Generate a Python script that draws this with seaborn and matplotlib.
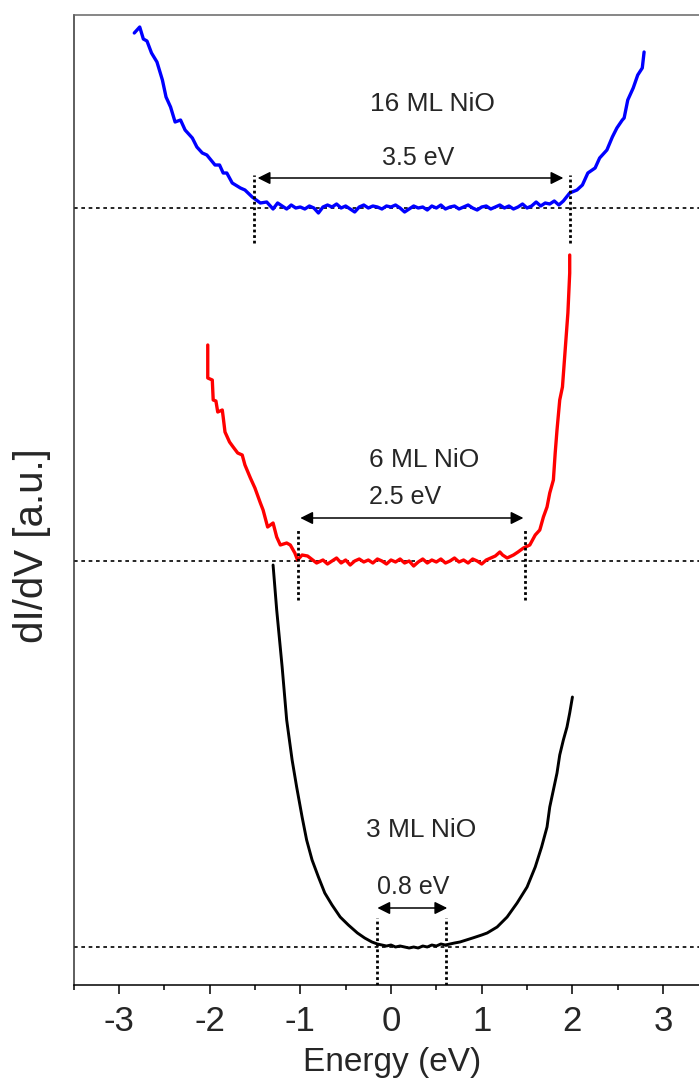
import matplotlib
matplotlib.use("Agg")
import matplotlib.pyplot as plt
import seaborn as sns
import numpy as np
from matplotlib.ticker import MultipleLocator

# ---------------- data (energy in eV, dI/dV in a.u. with offsets) -------------
# 16 ML NiO
e16 = [-2.83, -2.77, -2.73, -2.69, -2.64, -2.58, -2.52, -2.48, -2.43, -2.38, -2.32,
       -2.27, -2.19, -2.14, -2.08, -2.03, -1.94, -1.89, -1.85, -1.81, -1.75, -1.66,
       -1.61, -1.53, -1.44, -1.37, -1.30, -1.25,
       -1.20, -1.15, -1.10, -1.05, -1.00, -0.95, -0.90, -0.85, -0.80, -0.75, -0.70,
       -0.65, -0.60, -0.55, -0.50, -0.45, -0.40, -0.35, -0.30, -0.25, -0.20, -0.15,
       -0.10, -0.05, 0.00, 0.05, 0.10, 0.15, 0.20, 0.25, 0.30, 0.35, 0.40, 0.45,
       0.50, 0.55, 0.60, 0.65, 0.70, 0.75, 0.80, 0.85, 0.90, 0.95, 1.00, 1.05,
       1.10, 1.15, 1.20, 1.25, 1.30, 1.35, 1.40, 1.45, 1.50, 1.55, 1.60, 1.65,
       1.70, 1.75, 1.80, 1.85, 1.90,
       1.97, 2.05, 2.11, 2.17, 2.25, 2.30, 2.38, 2.44, 2.49, 2.55, 2.57, 2.61,
       2.67, 2.72, 2.77, 2.79]
d16 = [9.52, 9.58, 9.46, 9.44, 9.32, 9.23, 9.05, 8.88, 8.78, 8.63, 8.65,
       8.55, 8.47, 8.38, 8.32, 8.30, 8.20, 8.20, 8.12, 8.12, 8.02, 7.97,
       7.95, 7.88, 7.82, 7.83, 7.76, 7.82,
       7.79, 7.76, 7.80, 7.77, 7.78, 7.76, 7.79, 7.77, 7.72, 7.78, 7.80,
       7.78, 7.81, 7.77, 7.79, 7.76, 7.73, 7.78, 7.80, 7.77, 7.79, 7.78,
       7.76, 7.79, 7.78, 7.80, 7.77, 7.73, 7.76, 7.79, 7.77, 7.78, 7.75, 7.79,
       7.77, 7.80, 7.76, 7.78, 7.79, 7.76, 7.78, 7.80, 7.77, 7.75, 7.78, 7.79,
       7.76, 7.78, 7.80, 7.77, 7.79, 7.76, 7.78, 7.81, 7.77, 7.79, 7.83, 7.79,
       7.82, 7.81, 7.84, 7.80, 7.84,
       7.92, 7.95, 8.00, 8.12, 8.17, 8.27, 8.35, 8.48, 8.57, 8.65, 8.67, 8.85,
       8.97, 9.10, 9.17, 9.33]

# 6 ML NiO
e6 = [-2.02, -2.02, -1.97, -1.96, -1.93, -1.91, -1.86, -1.85, -1.83, -1.78, -1.74,
      -1.69, -1.64, -1.61, -1.55, -1.50, -1.44, -1.41, -1.36, -1.30, -1.26, -1.22,
      -1.15, -1.11, -1.06, -1.03, -0.98, -0.92, -0.82,
      -0.75, -0.70, -0.65, -0.60, -0.55, -0.50, -0.45, -0.40, -0.35, -0.30, -0.25,
      -0.20, -0.15, -0.10, -0.05, 0.00, 0.05, 0.10, 0.15, 0.20, 0.25, 0.30, 0.35,
      0.40, 0.45, 0.50, 0.55, 0.60, 0.65, 0.70, 0.75, 0.80, 0.85, 0.90, 0.95,
      1.00, 1.05, 1.10, 1.15,
      1.20, 1.23, 1.28, 1.35, 1.40, 1.46, 1.53, 1.59, 1.64, 1.68, 1.72, 1.75,
      1.79, 1.81, 1.83, 1.86, 1.89, 1.92, 1.95, 1.97, 1.97]
d6 = [6.40, 6.07, 6.05, 5.85, 5.84, 5.73, 5.75, 5.68, 5.53, 5.43, 5.38,
      5.32, 5.30, 5.20, 5.07, 4.97, 4.82, 4.75, 4.58, 4.62, 4.48, 4.40,
      4.42, 4.40, 4.32, 4.25, 4.30, 4.29, 4.22,
      4.25, 4.21, 4.24, 4.27, 4.22, 4.25, 4.20, 4.24, 4.26, 4.23, 4.25,
      4.22, 4.26, 4.24, 4.21, 4.25, 4.23, 4.26, 4.22, 4.24, 4.19, 4.23, 4.26,
      4.22, 4.25, 4.23, 4.26, 4.22, 4.24, 4.27, 4.23, 4.25, 4.22, 4.26, 4.24,
      4.21, 4.25, 4.27, 4.29,
      4.33, 4.30, 4.27, 4.30, 4.33, 4.37, 4.40, 4.50, 4.55, 4.68, 4.78, 4.92,
      5.05, 5.32, 5.55, 5.85, 5.98, 6.35, 6.72, 7.12, 7.30]

# 3 ML NiO
e3 = [-1.30, -1.26, -1.20, -1.15, -1.09, -1.04, -0.98, -0.93, -0.87, -0.80, -0.73,
      -0.65, -0.56, -0.47, -0.37, -0.29, -0.21, -0.15,
      -0.10, -0.05, 0.00, 0.05, 0.10, 0.15, 0.20, 0.25, 0.30, 0.35, 0.40, 0.45,
      0.50, 0.55, 0.60, 0.65, 0.70, 0.76,
      0.83, 0.90, 1.00, 1.06, 1.17, 1.28, 1.39, 1.50, 1.59, 1.66, 1.72, 1.75,
      1.79, 1.83, 1.86, 1.90, 1.94, 1.97, 2.00]
d3 = [4.20, 3.75, 3.18, 2.65, 2.25, 1.98, 1.68, 1.45, 1.25, 1.08, 0.92,
      0.80, 0.68, 0.60, 0.52, 0.47, 0.43, 0.41,
      0.40, 0.39, 0.40, 0.38, 0.39, 0.38, 0.37, 0.38, 0.37, 0.39, 0.38, 0.40,
      0.39, 0.41, 0.40, 0.41, 0.42, 0.43,
      0.45, 0.47, 0.50, 0.52, 0.58, 0.68, 0.82, 0.98, 1.18, 1.38, 1.58, 1.78,
      1.95, 2.12, 2.30, 2.45, 2.58, 2.72, 2.88]

# annotations
labels = ["16 ML NiO", "6 ML NiO", "3 ML NiO"]
label_pos = [(0.46, 8.81), (0.37, 5.25), (0.33, 1.55)]
gap_text = ["3.5 eV", "2.5 eV", "0.8 eV"]
gap_text_pos = [(0.30, 8.27), (0.15, 4.88), (0.24, 0.98)]
baselines = [7.77, 4.24, 0.38]
gap_edges = [(-1.51, 1.97), (-1.03, 1.48), (-0.15, 0.61)]
arrow_ends = [(-1.47, 1.90), (-1.00, 1.46), (-0.15, 0.62)]
arrow_y = [8.07, 4.67, 0.77]
edge_span = [(7.42, 8.10), (3.85, 4.57), (0.00, 0.67)]

# ---------------- figure -------------
sns.set_style("ticks")
plt.rcParams["font.family"] = ["Liberation Sans", "DejaVu Sans"]
plt.rcParams["axes.unicode_minus"] = False

fig = plt.figure(figsize=(6.99, 10.82), dpi=100)
ax = fig.add_axes([73.5 / 699, 97 / 1082, 635 / 699, 970 / 1082])

sns.lineplot(x=e16, y=d16, ax=ax, color="#0000ff", lw=2.4, sort=False, estimator=None)
sns.lineplot(x=e6, y=d6, ax=ax, color="#ff0000", lw=2.4, sort=False, estimator=None)
sns.lineplot(x=e3, y=d3, ax=ax, color="black", lw=2.1, sort=False, estimator=None)

for b in baselines:
    ax.axhline(b, color="black", lw=1.2, ls=(0, (2.2, 2.2)), zorder=1, clip_on=False)

for (e1, e2), (y1, y2) in zip(gap_edges, edge_span):
    for e in (e1, e2):
        ax.plot([e, e], [y1, y2], color="black", lw=2.0, ls=(0, (1, 1)), zorder=3)

for (a1, a2), ya in zip(arrow_ends, arrow_y):
    ax.annotate("", xy=(a2, ya), xytext=(a1, ya),
                arrowprops=dict(arrowstyle="<|-|>,head_length=0.5,head_width=0.25",
                                color="black", lw=1.1, mutation_scale=15,
                                shrinkA=0, shrinkB=0))

for s, (x, y) in zip(labels, label_pos):
    ax.text(x, y, s, ha="center", va="center", fontsize=19)
for s, (x, y) in zip(gap_text, gap_text_pos):
    ax.text(x, y, s, ha="center", va="center", fontsize=18)

ax.set_xlim(-3.5, 3.5)
ax.set_ylim(0, 9.7)
ax.xaxis.set_major_locator(MultipleLocator(1))
ax.xaxis.set_minor_locator(MultipleLocator(0.5))
ax.set_yticks([])
ax.tick_params(axis="x", which="major", direction="out", length=6.5, width=1.1,
               labelsize=25, pad=8, color="black")
ax.tick_params(axis="x", which="minor", direction="out", length=3.8, width=1.1,
               color="black")

ax.set_xlabel("Energy (eV)", fontsize=24, va="center")
ax.xaxis.set_label_coords(0.5016, -0.0804)
ax.set_ylabel("dI/dV [a.u.]", fontsize=29, va="center")
ax.yaxis.set_label_coords(-0.0646, 0.4526)

for side in ["left", "top", "bottom", "right"]:
    ax.spines[side].set_linewidth(1.1)
ax.spines["bottom"].set_color("black")
ax.spines["left"].set_color("#333333")
ax.spines["top"].set_color("#666666")
ax.spines["right"].set_color("#666666")

fig.savefig("out.png", dpi=100)
